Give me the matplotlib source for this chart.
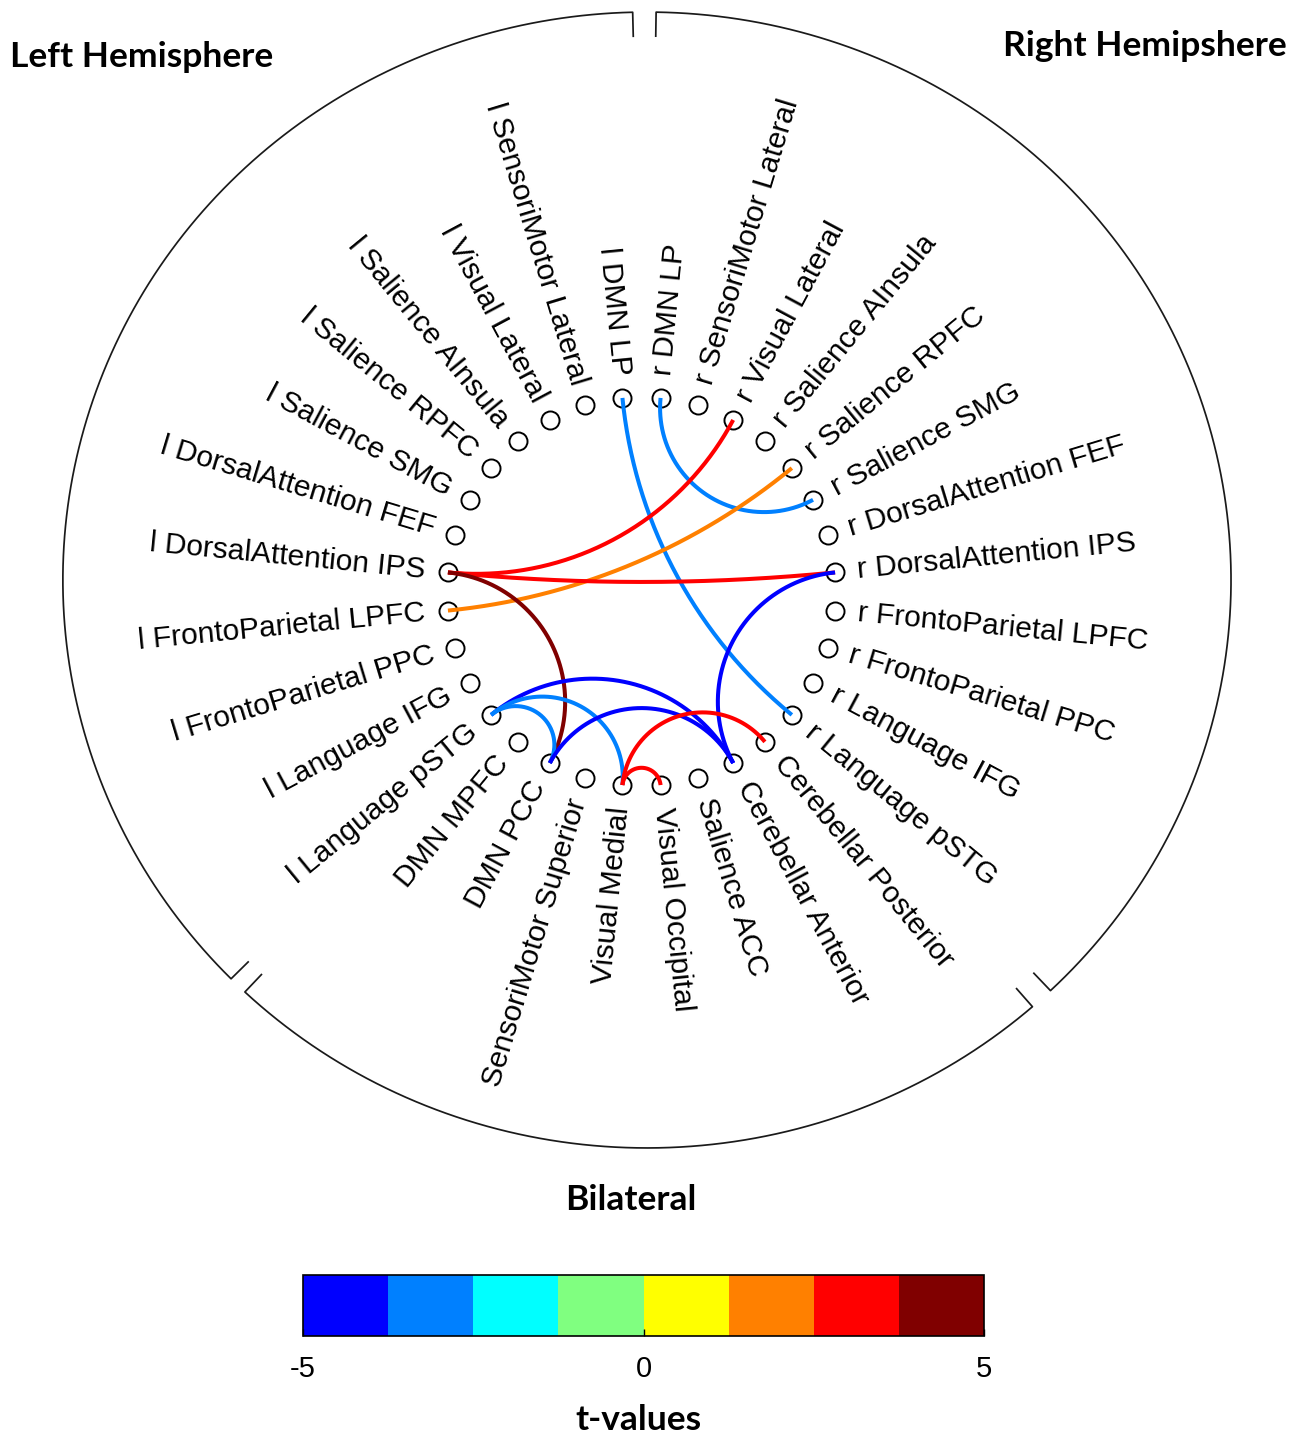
import numpy as np
import matplotlib.pyplot as plt
from matplotlib.colors import ListedColormap, BoundaryNorm
from matplotlib.cm import ScalarMappable

plt.rcParams['font.family'] = ['Liberation Sans', 'DejaVu Sans']
plt.rcParams['axes.unicode_minus'] = False

# nodes, counter-clockwise starting just left of the top
node_labels = [
    'l DMN LP', 'l SensoriMotor Lateral', 'l Visual Lateral', 'l Salience AInsula',
    'l Salience RPFC', 'l Salience SMG', 'l DorsalAttention FEF', 'l DorsalAttention IPS',
    'l FrontoParietal LPFC', 'l FrontoParietal PPC', 'l Language IFG', 'l Language pSTG',
    'DMN MPFC', 'DMN PCC', 'SensoriMotor Superior', 'Visual Medial',
    'Visual Occipital', 'Salience ACC', 'Cerebellar Anterior', 'Cerebellar Posterior',
    'r Language pSTG', 'r Language IFG', 'r FrontoParietal PPC', 'r FrontoParietal LPFC',
    'r DorsalAttention IPS', 'r DorsalAttention FEF', 'r Salience SMG', 'r Salience RPFC',
    'r Salience AInsula', 'r Visual Lateral', 'r SensoriMotor Lateral', 'r DMN LP',
]

# significant connections
edge_src = ['l DMN LP', 'r DMN LP', 'r Visual Lateral', 'r Salience RPFC',
            'l DorsalAttention IPS', 'l DorsalAttention IPS', 'r DorsalAttention IPS',
            'l Language pSTG', 'l Language pSTG', 'l Language pSTG', 'DMN PCC',
            'Visual Medial', 'Visual Medial']
edge_dst = ['r Language pSTG', 'r Salience SMG', 'l DorsalAttention IPS', 'l FrontoParietal LPFC',
            'r DorsalAttention IPS', 'DMN PCC', 'Cerebellar Anterior',
            'Cerebellar Anterior', 'DMN PCC', 'Visual Medial', 'Cerebellar Anterior',
            'Cerebellar Posterior', 'Visual Occipital']
edge_t = [-3.1, -3.1, 3.1, 2.0, 3.1, 4.3, -4.3, -4.3, -3.1, -3.1, -4.3, 3.1, 3.1]

# group segments of the outer ring (degrees)
group_names = ['Left Hemisphere', 'Bilateral', 'Right Hemipshere']
group_spans = [(91.4, 224.6), (226.5, 311.3), (313.7, 449.1)]

# MATLAB-style jet(8)
jet8 = [(0, 0, 1), (0, 0.5, 1), (0, 1, 1), (0.5, 1, 0.5),
        (1, 1, 0), (1, 0.5, 0), (1, 0, 0), (0.5, 0, 0)]
cmap = ListedColormap(jet8)
norm = BoundaryNorm(np.linspace(-5, 5, 9), cmap.N)

W, H = 1300, 1437
fig = plt.figure(figsize=(W / 100, H / 100), dpi=100)
ax = fig.add_axes([0, 0, 1, 1])
cx, cy, s = 641.5, 591.5, 194.5   # pixel centre of node circle and its radius
ax.set_xlim(-cx / s, (W - cx) / s)
ax.set_ylim(-(H - cy) / s, cy / s)
ax.axis('off')

n = len(node_labels)
theta = np.deg2rad(90 + 180 / n + 360 / n * np.arange(n))
nx, ny = np.cos(theta), np.sin(theta)
idx = {name: i for i, name in enumerate(node_labels)}

ax.scatter(nx, ny, s=13 ** 2, facecolors='white', edgecolors='black',
           linewidths=1.4, zorder=2)


def arc_points(a, b, npts=200):
    d = (b - a + np.pi) % (2 * np.pi) - np.pi
    p1 = np.array([np.cos(a), np.sin(a)])
    p2 = np.array([np.cos(b), np.sin(b)])
    if abs(abs(d) - np.pi) < 1e-3:
        return np.linspace(p1, p2, npts).T
    m = a + d / 2
    c = np.array([np.cos(m), np.sin(m)]) / np.cos(d / 2)
    r = abs(np.tan(d / 2))
    f1 = np.arctan2(*(p1 - c)[::-1])
    f2 = np.arctan2(*(p2 - c)[::-1])
    df = (f2 - f1 + np.pi) % (2 * np.pi) - np.pi
    f = f1 + np.linspace(0, df, npts)
    return c[0] + r * np.cos(f), c[1] + r * np.sin(f)


for a, b, t in zip(edge_src, edge_dst, edge_t):
    xs, ys = arc_points(theta[idx[a]], theta[idx[b]])
    ax.plot(xs, ys, color=cmap(norm(t)), lw=2.9, solid_capstyle='butt', zorder=3)

# node labels
for i, name in enumerate(node_labels):
    ang = np.rad2deg(theta[i]) % 360
    if 90 < ang < 270:
        rot, ha = ang - 180, 'right'
    else:
        rot, ha = ang, 'left'
    ax.text(1.115 * nx[i], 1.115 * ny[i], name, rotation=rot, ha=ha, va='center',
            rotation_mode='anchor', fontsize=21.6)

# outer ring split into groups with radial end ticks
ring_c = np.array([0.028, 0.059])
rx, ry = 3.003, 2.920
tick = 24 / s
for a0, a1 in group_spans:
    f = np.deg2rad(np.linspace(a0, a1, 400))
    xs = ring_c[0] + rx * np.cos(f)
    ys = ring_c[1] + ry * np.sin(f)
    xs = np.concatenate([[xs[0] - tick * np.cos(f[0])], xs, [xs[-1] - tick * np.cos(f[-1])]])
    ys = np.concatenate([[ys[0] - tick * np.sin(f[0])], ys, [ys[-1] - tick * np.sin(f[-1])]])
    ax.plot(xs, ys, color='#1a1a1a', lw=1.25, zorder=1)

title_font = dict(family=['Lato', 'DejaVu Sans'], fontweight='bold', fontsize=25.5)
fig.text(10 / W, 1 - 67 / H, group_names[0], ha='left', va='baseline', **title_font)
fig.text(1287 / W, 1 - 56 / H, group_names[2], ha='right', va='baseline', **title_font)
fig.text(631 / W, 1 - 1210 / H, group_names[1], ha='center', va='baseline', **title_font)

# colorbar
cax = fig.add_axes([303 / W, 1 - 1336 / H, (984 - 303) / W, (1336 - 1275) / H])
cb = fig.colorbar(ScalarMappable(norm=norm, cmap=cmap), cax=cax,
                  orientation='horizontal', ticks=[-5, 0, 5])
cb.minorticks_off()
cb.outline.set_linewidth(1.2)
cb.ax.tick_params(direction='in', length=5, width=1, labelsize=21, pad=14)
fig.text(638 / W, 1 - 1430 / H, 't-values', ha='center', va='baseline', **title_font)

fig.savefig('out.png', dpi=100)
